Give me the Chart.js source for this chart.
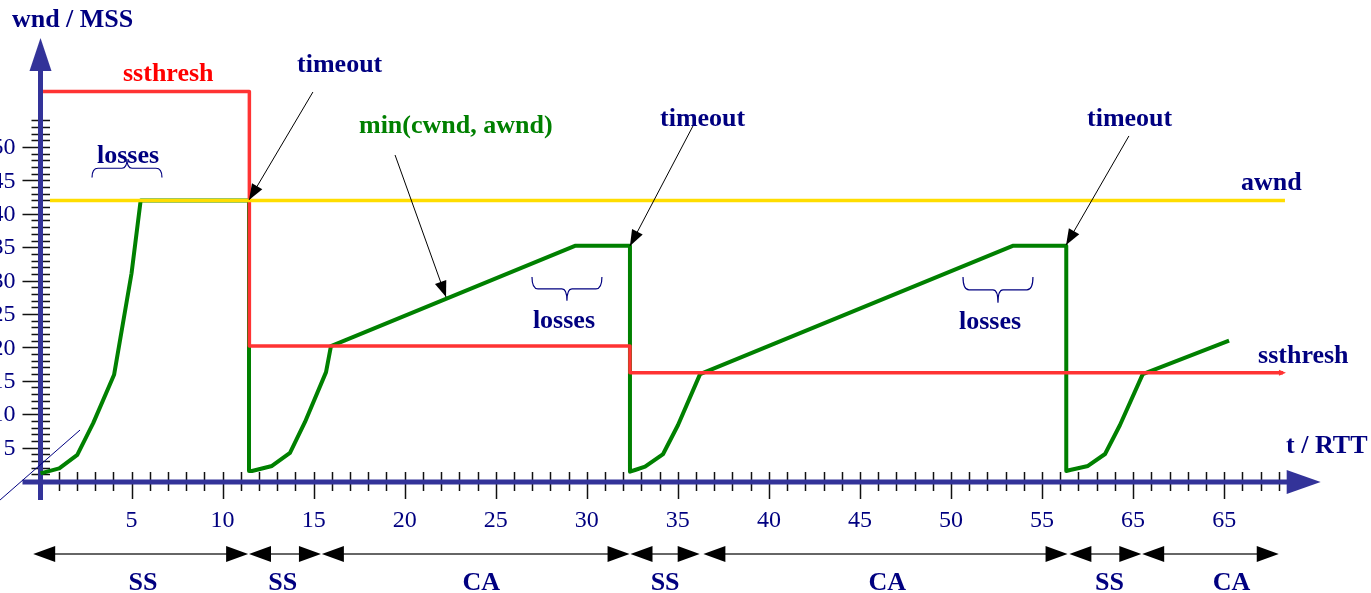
<!DOCTYPE html>
<html>
<head>
<meta charset="utf-8">
<script src="https://cdn.jsdelivr.net/npm/chart.js@4.4.1/dist/chart.umd.min.js"></script>
<style>
  html, body { margin: 0; padding: 0; background: #ffffff; }
  canvas { display: block; }
</style>
</head>
<body>
<canvas id="tcpChart" width="1371" height="593"></canvas>
<script>
// ---- data (units: t / RTT on x, wnd / MSS on y) ----
var cwndX = [0, 1.03, 2.02, 2.9, 4.04, 5.0, 5.5, 11.45, 11.45,
             11.61, 12.71, 13.7, 14.52, 15.68, 15.95, 29.35, 32.37, 32.37,
             32.65, 33.2, 34.19, 35.01, 36.22, 53.39, 56.33, 56.33,
             56.54, 57.52, 58.46, 59.28, 60.53, 65.27];
var cwndY = [1.15, 1.9, 3.9, 8.7, 15.9, 31.1, 42, 42, 1.5,
             1.5, 2.25, 4.2, 8.8, 16.3, 20.2, 35.2, 35.2, 1.4,
             1.65, 2.14, 4.04, 8.38, 16.0, 35.2, 35.2, 1.5,
             1.65, 2.25, 4.04, 8.38, 16.0, 21.0];

var ssthreshX = [0.14, 11.47, 11.47, 32.37, 32.37, 68.23];
var ssthreshY = [58.3, 58.3, 20.2, 20.2, 16.2, 16.2];

var awndX = [0.52, 68.34];
var awndY = [42, 42];

var xTickValues = [5, 10, 15, 20, 25, 30, 35, 40, 45, 50, 55, 60, 65];
var xTickLabels = ['5', '10', '15', '20', '25', '30', '35', '40', '45', '50', '55', '65', '65'];
var yTickValues = [5, 10, 15, 20, 25, 30, 35, 40, 45, 50];
var yTickLabels = ['5', '10', '15', '20', '25', '30', '35', '40', '45', '50'];

// phases shown under the time axis
var phaseLabels = ['SS', 'SS', 'CA', 'SS', 'CA', 'SS', 'CA'];
var phaseStart = [-0.4, 11.45, 15.45, 32.4, 36.4, 56.5, 60.5];
var phaseEnd = [11.4, 15.4, 32.35, 36.2, 56.4, 60.45, 68.0];
var phaseLabelX = [5.63, 13.3, 24.2, 34.3, 46.5, 58.7, 65.4];

// ---- styles ----
var colors = {
    axis: '#333399',
    navy: '#000080',
    green: '#008000',
    red: '#ff3333',
    redText: '#ff0000',
    yellow: '#ffdd00',
    tick: '#111111',
    phase: '#666666'
};
var boldFont = 'bold 26px "Liberation Serif", "DejaVu Serif", serif';
var tickFont = '24px "Liberation Serif", "DejaVu Serif", serif';

// text annotations, anchored in data units (left edge, baseline)
var notes = [
    { text: 'wnd / MSS', x: -1.57, y: 68.0, color: colors.navy },
    { text: 'ssthresh', x: 4.53, y: 59.9, color: colors.redText },
    { text: 'timeout', x: 14.09, y: 61.2, color: colors.navy },
    { text: 'min(cwnd, awnd)', x: 17.49, y: 52.1, color: colors.green },
    { text: 'timeout', x: 34.02, y: 53.1, color: colors.navy },
    { text: 'timeout', x: 57.47, y: 53.1, color: colors.navy },
    { text: 'awnd', x: 65.93, y: 43.6, color: colors.navy },
    { text: 'losses', x: 3.10, y: 47.6, color: colors.navy },
    { text: 'losses', x: 27.04, y: 22.9, color: colors.navy },
    { text: 'losses', x: 50.44, y: 22.75, color: colors.navy },
    { text: 'ssthresh', x: 66.86, y: 17.66, color: colors.navy },
    { text: 't / RTT', x: 68.4, y: 4.19, color: colors.navy }
];

// black pointer arrows: [fromX, fromY, toX, toY]
var pointers = [
    [14.96, 58.23, 11.45, 42.07],
    [35.83, 53.14, 32.37, 35.18],
    [59.77, 51.65, 56.32, 35.33],
    [19.47, 48.8, 22.27, 27.54]
];

// curly braces over the loss periods: [leftX, rightX, edgeY, tipY]
var braces = [
    [2.83, 6.67, 45.44, 48.2],
    [26.99, 30.83, 30.54, 27.0],
    [50.66, 54.5, 30.54, 26.7]
];

function pts(xs, ys) {
    return xs.map(function (x, i) { return { x: x, y: ys[i] }; });
}

function arrowHead(ctx, x1, y1, x2, y2, len, half) {
    var a = Math.atan2(y2 - y1, x2 - x1);
    ctx.beginPath();
    ctx.moveTo(x2, y2);
    ctx.lineTo(x2 - len * Math.cos(a) + half * Math.sin(a), y2 - len * Math.sin(a) - half * Math.cos(a));
    ctx.lineTo(x2 - len * Math.cos(a) - half * Math.sin(a), y2 - len * Math.sin(a) + half * Math.cos(a));
    ctx.closePath();
    ctx.fill();
}

var diagram = {
    id: 'diagram',
    beforeDatasetsDraw: function (chart) {
        var ctx = chart.ctx;
        var xs = chart.scales.x, ys = chart.scales.y;
        var x0 = xs.getPixelForValue(0), y0 = ys.getPixelForValue(0);
        var i, p;
        ctx.save();

        // tick marks
        ctx.strokeStyle = colors.tick;
        ctx.lineWidth = 1.5;
        ctx.beginPath();
        for (i = 1; i <= 68; i++) {
            p = Math.round(xs.getPixelForValue(i)) + 0.5;
            ctx.moveTo(p, y0 - 9);
            ctx.lineTo(p, y0 + (i % 5 === 0 ? 18 : 10));
        }
        for (i = 1; i <= 54; i++) {
            p = Math.round(ys.getPixelForValue(i)) + 0.5;
            ctx.moveTo(x0 - (i % 5 === 0 && i <= 50 ? 18 : 9), p);
            ctx.lineTo(x0 + 9.5, p);
        }
        ctx.stroke();

        // axes with arrow heads
        ctx.strokeStyle = colors.axis;
        ctx.fillStyle = colors.axis;
        ctx.lineWidth = 5;
        ctx.beginPath();
        ctx.moveTo(x0 - 18, y0 + 1);
        ctx.lineTo(xs.getPixelForValue(68.6), y0 + 1);
        ctx.moveTo(x0, ys.getPixelForValue(-2.85));
        ctx.lineTo(x0, ys.getPixelForValue(61.5));
        ctx.stroke();
        ctx.beginPath();
        var xt = xs.getPixelForValue(70.3);
        ctx.moveTo(xt, y0 + 1);
        ctx.lineTo(xt - 34, y0 - 11);
        ctx.lineTo(xt - 34, y0 + 13);
        ctx.closePath();
        ctx.fill();
        var yt = ys.getPixelForValue(66.3);
        ctx.beginPath();
        ctx.moveTo(x0, yt);
        ctx.lineTo(x0 - 11, yt + 33);
        ctx.lineTo(x0 + 11, yt + 33);
        ctx.closePath();
        ctx.fill();

        // tick labels
        ctx.fillStyle = colors.navy;
        ctx.font = tickFont;
        ctx.textAlign = 'center';
        ctx.textBaseline = 'middle';
        xTickValues.forEach(function (v, k) {
            ctx.fillText(xTickLabels[k], xs.getPixelForValue(v), y0 + 40);
        });
        ctx.textAlign = 'right';
        yTickValues.forEach(function (v, k) {
            ctx.fillText(yTickLabels[k], x0 - 25, ys.getPixelForValue(v) + 1);
        });

        // thin diagonal stroke near the origin
        ctx.strokeStyle = colors.navy;
        ctx.lineWidth = 1;
        ctx.beginPath();
        ctx.moveTo(xs.getPixelForValue(-2.22), ys.getPixelForValue(-2.84));
        ctx.lineTo(xs.getPixelForValue(2.17), ys.getPixelForValue(7.63));
        ctx.stroke();
        ctx.restore();
    },
    afterDatasetsDraw: function (chart) {
        var ctx = chart.ctx;
        var xs = chart.scales.x, ys = chart.scales.y;
        ctx.save();

        // small arrow at the end of ssthresh
        ctx.fillStyle = colors.red;
        var ex = xs.getPixelForValue(ssthreshX[ssthreshX.length - 1]);
        var ey = ys.getPixelForValue(ssthreshY[ssthreshY.length - 1]);
        arrowHead(ctx, ex - 10, ey, ex + 3, ey, 7, 3);

        // pointer arrows
        ctx.strokeStyle = '#000000';
        ctx.fillStyle = '#000000';
        ctx.lineWidth = 1;
        pointers.forEach(function (a) {
            var x1 = xs.getPixelForValue(a[0]), y1 = ys.getPixelForValue(a[1]);
            var x2 = xs.getPixelForValue(a[2]), y2 = ys.getPixelForValue(a[3]);
            ctx.beginPath();
            ctx.moveTo(x1, y1);
            ctx.lineTo(x2, y2);
            ctx.stroke();
            arrowHead(ctx, x1, y1, x2, y2, 16, 6);
        });

        // braces
        ctx.strokeStyle = colors.navy;
        ctx.lineWidth = 1.2;
        braces.forEach(function (b) {
            var l = xs.getPixelForValue(b[0]), r = xs.getPixelForValue(b[1]);
            var e = ys.getPixelForValue(b[2]), t = ys.getPixelForValue(b[3]);
            var m = (l + r) / 2, d = (t - e) / 2;
            ctx.beginPath();
            ctx.moveTo(l, e);
            ctx.quadraticCurveTo(l, e + d, l + 6, e + d);
            ctx.lineTo(m - 5, e + d);
            ctx.quadraticCurveTo(m, e + d, m, t);
            ctx.quadraticCurveTo(m, e + d, m + 5, e + d);
            ctx.lineTo(r - 6, e + d);
            ctx.quadraticCurveTo(r, e + d, r, e);
            ctx.stroke();
        });

        // phase arrows under the axis
        var py = ys.getPixelForValue(-10.93);
        ctx.strokeStyle = colors.phase;
        ctx.fillStyle = '#000000';
        ctx.lineWidth = 2;
        phaseStart.forEach(function (s, k) {
            var l = xs.getPixelForValue(s), r = xs.getPixelForValue(phaseEnd[k]);
            ctx.beginPath();
            ctx.moveTo(l + 10, py);
            ctx.lineTo(r - 10, py);
            ctx.stroke();
            arrowHead(ctx, r - 30, py, r, py, 22, 8);
            arrowHead(ctx, l + 30, py, l, py, 22, 8);
        });
        ctx.font = boldFont;
        ctx.fillStyle = colors.navy;
        ctx.textAlign = 'center';
        ctx.textBaseline = 'alphabetic';
        phaseLabels.forEach(function (lab, k) {
            ctx.fillText(lab, xs.getPixelForValue(phaseLabelX[k]), ys.getPixelForValue(-16.3));
        });

        // text notes
        ctx.textAlign = 'left';
        notes.forEach(function (n) {
            ctx.fillStyle = n.color;
            ctx.fillText(n.text, xs.getPixelForValue(n.x), ys.getPixelForValue(n.y));
        });
        ctx.restore();
    }
};

new Chart(document.getElementById('tcpChart'), {
    type: 'line',
    data: {
        datasets: [{
            label: 'awnd',
            data: pts(awndX, awndY),
            borderColor: colors.yellow,
            borderWidth: 3.5
        }, {
            label: 'ssthresh',
            data: pts(ssthreshX, ssthreshY),
            borderColor: colors.red,
            borderWidth: 3.5
        }, {
            label: 'min(cwnd, awnd)',
            data: pts(cwndX, cwndY),
            borderColor: colors.green,
            borderWidth: 4
        }]
    },
    options: {
        responsive: false,
        animation: false,
        layout: {
            padding: { left: 40.5, right: 55.8, top: 46.8, bottom: 112 }
        },
        elements: {
            point: { radius: 0, hoverRadius: 0 },
            line: { tension: 0, borderJoinStyle: 'round', fill: false }
        },
        datasets: {
            line: { clip: false }
        },
        scales: {
            x: { type: 'linear', min: 0, max: 70, display: false },
            y: { type: 'linear', min: 0, max: 65, display: false }
        },
        plugins: {
            legend: { display: false },
            tooltip: { enabled: false }
        }
    },
    plugins: [diagram]
});
</script>
</body>
</html>
